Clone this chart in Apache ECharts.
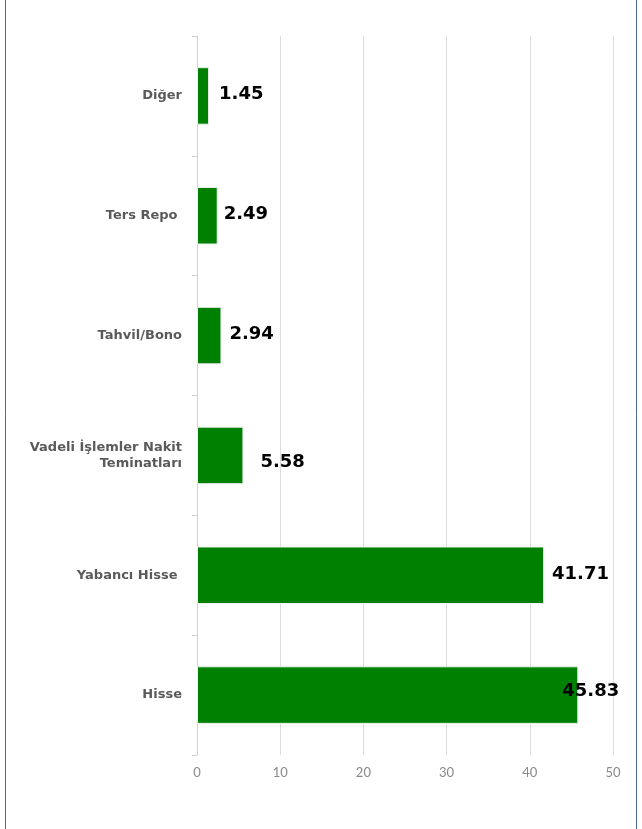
<!DOCTYPE html>
<html>
<head>
<meta charset="utf-8">
<script src="https://cdn.jsdelivr.net/npm/echarts@6/dist/echarts.min.js"></script>
<style>
    html, body { margin: 0; padding: 0; background: #fff; }
    #chart { width: 642px; height: 829px; }
</style>
</head>
<body>
<div id="chart"></div>
<script>
// categories are listed bottom to top
var categories = ['Hisse', 'Yabancı Hisse ', 'Vadeli İşlemler Nakit\nTeminatları', 'Tahvil/Bono', 'Ters Repo ', 'Diğer'];
var values = [45.83, 41.71, 5.58, 2.94, 2.49, 1.45];
var xTicks = [0, 10, 20, 30, 40, 50];
// extra shift of the value labels, px
var labelShiftX = [-24, 0, 9, 0, -2, 2];
var labelShiftY = [-4, -1, 7, -1, -1, -2];

var chart = echarts.init(document.getElementById('chart'));

var seriesData = values.map(function(v, i){
    return {
        value: v,
        label: { offset: [labelShiftX[i], labelShiftY[i]] }
    };
});

chart.setOption({
    animation: false,
    grid: { left: 197, right: 29, top: 36, bottom: 74 },
    graphic: [
        { type: 'line', shape: { x1: 5.5, y1: 0, x2: 5.5, y2: 829 }, style: { stroke: '#4d6798', lineWidth: 1 } },
        { type: 'line', shape: { x1: 636.5, y1: 0, x2: 636.5, y2: 829 }, style: { stroke: '#4d6798', lineWidth: 1 } }
    ],
    xAxis: {
        type: 'value',
        min: xTicks[0],
        max: xTicks[xTicks.length - 1],
        interval: 10,
        axisLine: { show: false },
        axisTick: { show: false },
        splitLine: { lineStyle: { color: '#dcdcdc' } },
        axisLabel: { color: '#8a8a8a', fontSize: 13, fontFamily: 'Lato', margin: 11 }
    },
    yAxis: {
        type: 'category',
        data: categories,
        axisLine: { show: true, lineStyle: { color: '#d0d0d0' } },
        axisTick: { show: true, length: 5, lineStyle: { color: '#d0d0d0' } },
        axisLabel: {
            color: '#5a5a5a',
            fontSize: 13,
            fontWeight: 'bold',
            fontFamily: 'DejaVu Sans',
            margin: 15,
            lineHeight: 16,
            align: 'right'
        }
    },
    series: [{
        type: 'bar',
        data: seriesData,
        barWidth: '48%',
        itemStyle: { color: '#008000', borderColor: '#eeeeee', borderWidth: 1 },
        label: {
            show: true,
            position: 'right',
            distance: 8,
            color: '#000',
            fontSize: 18,
            fontWeight: 'bold',
            fontFamily: 'DejaVu Sans'
        }
    }]
});
</script>
</body>
</html>
